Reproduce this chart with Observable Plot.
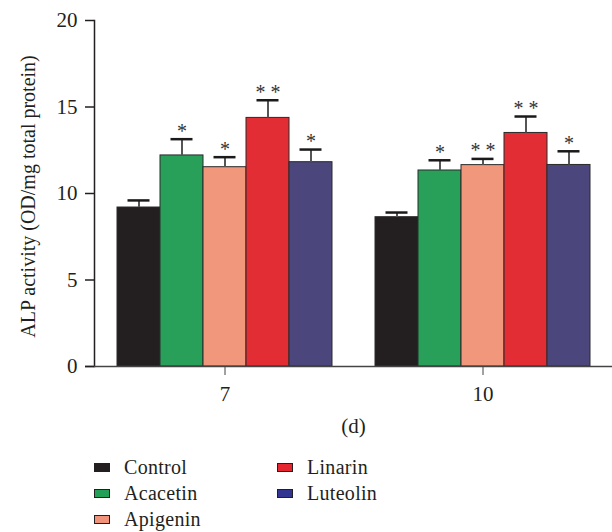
<!DOCTYPE html>
<html>
<head>
<meta charset="utf-8">
<script src="https://cdn.jsdelivr.net/npm/d3@7"></script>
<script src="https://cdn.jsdelivr.net/npm/@observablehq/plot@0.6"></script>
<style>
  html, body { margin: 0; padding: 0; background: #fff; }
  #chart { width: 612px; }
  .legend {
    display: grid;
    grid-auto-flow: column;
    grid-template-rows: repeat(3, 26px);
    grid-template-columns: 183px 200px;
    padding-left: 94px;
    padding-top: 9px;
    font-family: "Liberation Serif", "DejaVu Serif", serif;
    font-size: 20px;
    letter-spacing: 0.3px;
    color: #231f20;
  }
  .legend .item { display: flex; align-items: center; }
  .legend .sw { width: 14px; height: 7px; border: 1px solid #231f20; margin-right: 14px; }
</style>
</head>
<body>
<div id="chart"></div>
<script>
const days = ["7", "10"];
const treatments = ["Control", "Acacetin", "Apigenin", "Linarin", "Luteolin"];
const colors = ["#231f20", "#28a05a", "#f0977c", "#e12d33", "#4b467c"];
const swatchColors = ["#231f20", "#22a055", "#f0937a", "#e3262f", "#2f3590"];
const means7 = [9.19, 12.2, 11.52, 14.37, 11.81];
const sd7 = [0.41, 0.94, 0.58, 1.02, 0.73];
const means10 = [8.63, 11.33, 11.64, 13.5, 11.65];
const sd10 = [0.27, 0.59, 0.36, 0.95, 0.79];
const sig7 = ["", "*", "*", "* *", "*"];
const sig10 = ["", "*", "* *", "* *", "*"];
const yTicks = [0, 5, 10, 15, 20];

const means = {"7": means7, "10": means10};
const sds = {"7": sd7, "10": sd10};
const sigs = {"7": sig7, "10": sig10};

const rows = days.flatMap(d => treatments.map((t, i) => ({
  day: d, treatment: t, key: d + "|" + t,
  mean: means[d][i], sd: sds[d][i], top: means[d][i] + sds[d][i], sig: sigs[d][i]
})));

const slots = [...treatments.map(t => "7|" + t), "gap", ...treatments.map(t => "10|" + t)];
const centerKeys = days.map(d => d + "|" + treatments[2]);

const font = "Liberation Serif, DejaVu Serif, serif";

const chart = Plot.plot({
  width: 612,
  height: 445,
  marginTop: 20,
  marginBottom: 79,
  marginLeft: 94,
  marginRight: 0,
  style: {fontFamily: font, fontSize: "20px", color: "#231f20", background: "#fff"},
  x: {type: "band", domain: slots, paddingInner: 0, paddingOuter: 0.5},
  y: {domain: [0, 20]},
  color: {domain: treatments, range: colors},
  marks: [
    Plot.barY(rows, {x: "key", y: "mean", fill: "treatment", stroke: "#2a2a2a", strokeWidth: 1}),
    Plot.ruleX(rows, {x: "key", y1: "mean", y2: "top", stroke: "#555", strokeWidth: 2}),
    Plot.tickY(rows, {x: "key", y: "top", stroke: "#1a1a1a", strokeWidth: 2.5, insetLeft: 10.5, insetRight: 10.5}),
    Plot.text(rows.filter(r => r.sig), {x: "key", y: "top", text: "sig", dy: -8, fontSize: 20, fill: "#333"}),
    Plot.frame({anchor: "left", stroke: "#231f20", strokeWidth: 1.5}),
    Plot.ruleY([0], {stroke: "#444", strokeWidth: 1.5, insetLeft: -9}),
    Plot.axisY({ticks: yTicks, tickSize: 9, tickPadding: 8, fontSize: 21, label: null, stroke: "#231f20", strokeWidth: 1.5}),
    Plot.axisX({ticks: centerKeys, tickFormat: k => k.split("|")[0], tickSize: 9, tickPadding: 11, fontSize: 21,
      label: "(d)", labelAnchor: "center", labelArrow: "none", labelOffset: 66, stroke: "#444"}),
    Plot.text(["ALP activity (OD/mg total protein)"], {
      frameAnchor: "left", dx: -66, dy: 3, rotate: -90, fontSize: 20, letterSpacing: 0.5, textAnchor: "middle", fill: "#231f20"
    })
  ]
});
document.getElementById("chart").appendChild(chart);

const legend = document.createElement("div");
legend.className = "legend";
treatments.forEach((t, i) => {
  const item = document.createElement("div");
  item.className = "item";
  const sw = document.createElement("span");
  sw.className = "sw";
  sw.style.background = swatchColors[i];
  const label = document.createElement("span");
  label.textContent = t;
  item.appendChild(sw);
  item.appendChild(label);
  legend.appendChild(item);
});
document.body.appendChild(legend);
</script>
</body>
</html>
